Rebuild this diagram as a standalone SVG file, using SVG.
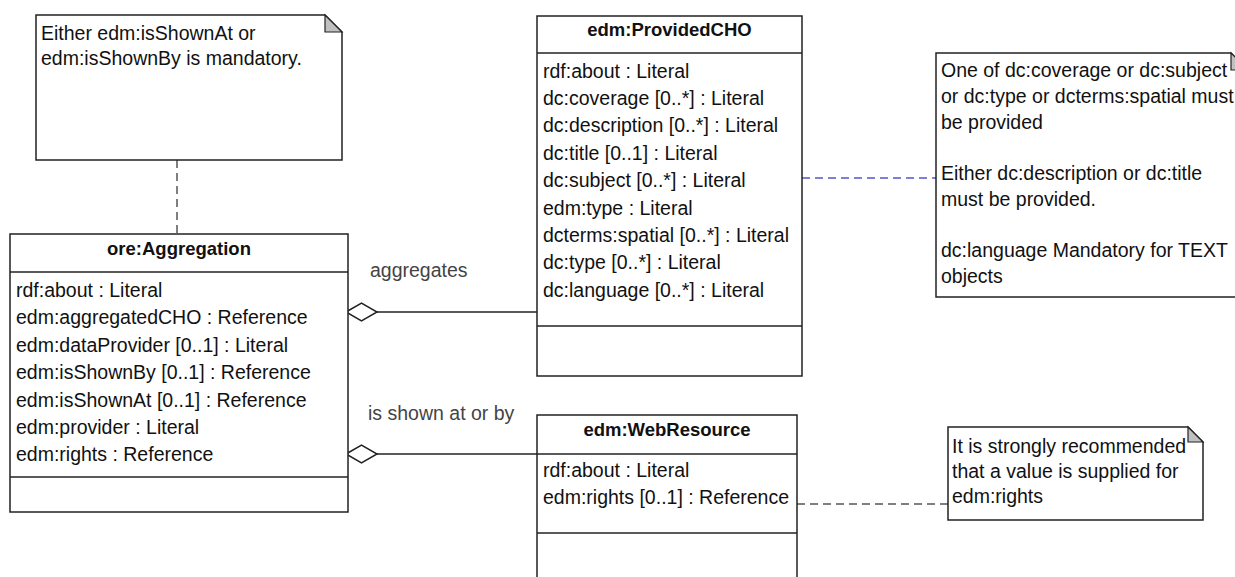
<svg xmlns="http://www.w3.org/2000/svg" width="1235" height="577" viewBox="0 0 1235 577">
<style>
  .box { fill: #ffffff; stroke: #222222; stroke-width: 1.5; }
  .sep { stroke: #222222; stroke-width: 1.5; }
  .title { font-family: "Liberation Sans", Arial, sans-serif; font-size: 18.5px; font-weight: bold; fill: #111111; text-anchor: middle; }
  .attr { font-family: "Liberation Sans", Arial, sans-serif; font-size: 19.5px; fill: #111111; }
  .note { fill: #ffffff; stroke: #222222; stroke-width: 1.5; }
  .fold { fill: #c0c0c0; stroke: #222222; stroke-width: 1.2; }
  .ntext { font-family: "Liberation Sans", Arial, sans-serif; font-size: 19.5px; fill: #111111; }
  .lbl { font-family: "Liberation Sans", Arial, sans-serif; font-size: 19.5px; fill: #444444; }
  .assoc { stroke: #222222; stroke-width: 1.5; fill: none; }
  .diamond { fill: #ffffff; stroke: #222222; stroke-width: 1.5; }
  .dash { stroke: #555555; stroke-width: 1.5; stroke-dasharray: 8 5; fill: none; }
  .bdash { stroke: #5555cc; stroke-width: 1.5; stroke-dasharray: 8 5; fill: none; }
</style>

<g id="connectors">
  <line class="dash" x1="177" y1="160" x2="177" y2="234"/>
  <line class="assoc" x1="377" y1="312" x2="537" y2="312"/>
  <polygon class="diamond" points="346,312 361.5,303 377,312 361.5,321"/>
  <text class="lbl" x="370" y="277">aggregates</text>
  <line class="assoc" x1="377" y1="454" x2="537" y2="454"/>
  <polygon class="diamond" points="346,454 361.5,445 377,454 361.5,463"/>
  <text class="lbl" x="368" y="420">is shown at or by</text>
  <line class="bdash" x1="802" y1="178" x2="936" y2="178"/>
  <line class="dash" x1="797" y1="504" x2="948" y2="504"/>
</g>

<g id="note-mandatory">
  <path class="note" d="M36,15 H325 L342,32 V160 H36 Z"/>
  <path class="fold" d="M325,15 V32 H342 Z"/>
  <text class="ntext" x="41" y="40">Either edm:isShownAt or</text>
  <text class="ntext" x="41" y="65">edm:isShownBy is mandatory.</text>
</g>

<g id="ore-aggregation">
  <rect class="box" x="10" y="234" width="338" height="278"/>
  <line class="sep" x1="10" y1="272" x2="348" y2="272"/>
  <line class="sep" x1="10" y1="477" x2="348" y2="477"/>
  <text class="title" x="179" y="255">ore:Aggregation</text>
  <text class="attr" x="16" y="297">rdf:about : Literal</text>
  <text class="attr" x="16" y="324.4">edm:aggregatedCHO : Reference</text>
  <text class="attr" x="16" y="351.8">edm:dataProvider [0..1] : Literal</text>
  <text class="attr" x="16" y="379.2">edm:isShownBy [0..1] : Reference</text>
  <text class="attr" x="16" y="406.6">edm:isShownAt [0..1] : Reference</text>
  <text class="attr" x="16" y="434">edm:provider : Literal</text>
  <text class="attr" x="16" y="461.4">edm:rights : Reference</text>
</g>

<g id="edm-providedcho">
  <rect class="box" x="537" y="16" width="265" height="360"/>
  <line class="sep" x1="537" y1="53" x2="802" y2="53"/>
  <line class="sep" x1="537" y1="326" x2="802" y2="326"/>
  <text class="title" x="669.5" y="36">edm:ProvidedCHO</text>
  <text class="attr" x="543" y="77.5">rdf:about : Literal</text>
  <text class="attr" x="543" y="104.9">dc:coverage [0..*] : Literal</text>
  <text class="attr" x="543" y="132.3">dc:description [0..*] : Literal</text>
  <text class="attr" x="543" y="159.7">dc:title [0..1] : Literal</text>
  <text class="attr" x="543" y="187.1">dc:subject [0..*] : Literal</text>
  <text class="attr" x="543" y="214.5">edm:type : Literal</text>
  <text class="attr" x="543" y="241.9">dcterms:spatial [0..*] : Literal</text>
  <text class="attr" x="543" y="269.3">dc:type [0..*] : Literal</text>
  <text class="attr" x="543" y="296.7">dc:language [0..*] : Literal</text>
</g>

<g id="note-providedcho">
  <path class="note" d="M936,53 H1231 L1248,70 V297 H936 Z"/>
  <path class="fold" d="M1231,53 V70 H1248 Z"/>
  <text class="ntext" x="941" y="77.3">One of dc:coverage or dc:subject</text>
  <text class="ntext" x="941" y="103">or dc:type or dcterms:spatial must</text>
  <text class="ntext" x="941" y="128.7">be provided</text>
  <text class="ntext" x="941" y="180">Either dc:description or dc:title</text>
  <text class="ntext" x="941" y="205.7">must be provided.</text>
  <text class="ntext" x="941" y="257">dc:language Mandatory for TEXT</text>
  <text class="ntext" x="941" y="282.7">objects</text>
</g>

<g id="edm-webresource">
  <rect class="box" x="537" y="415" width="260" height="190"/>
  <line class="sep" x1="537" y1="454" x2="797" y2="454"/>
  <line class="sep" x1="537" y1="533" x2="797" y2="533"/>
  <text class="title" x="667" y="436">edm:WebResource</text>
  <text class="attr" x="543" y="477">rdf:about : Literal</text>
  <text class="attr" x="543" y="504">edm:rights [0..1] : Reference</text>
</g>

<g id="note-rights">
  <path class="note" d="M948,427 H1188 L1203,442 V520 H948 Z"/>
  <path class="fold" d="M1188,427 V442 H1203 Z"/>
  <text class="ntext" x="952" y="453">It is strongly recommended</text>
  <text class="ntext" x="952" y="478">that a value is supplied for</text>
  <text class="ntext" x="952" y="503">edm:rights</text>
</g>
</svg>
